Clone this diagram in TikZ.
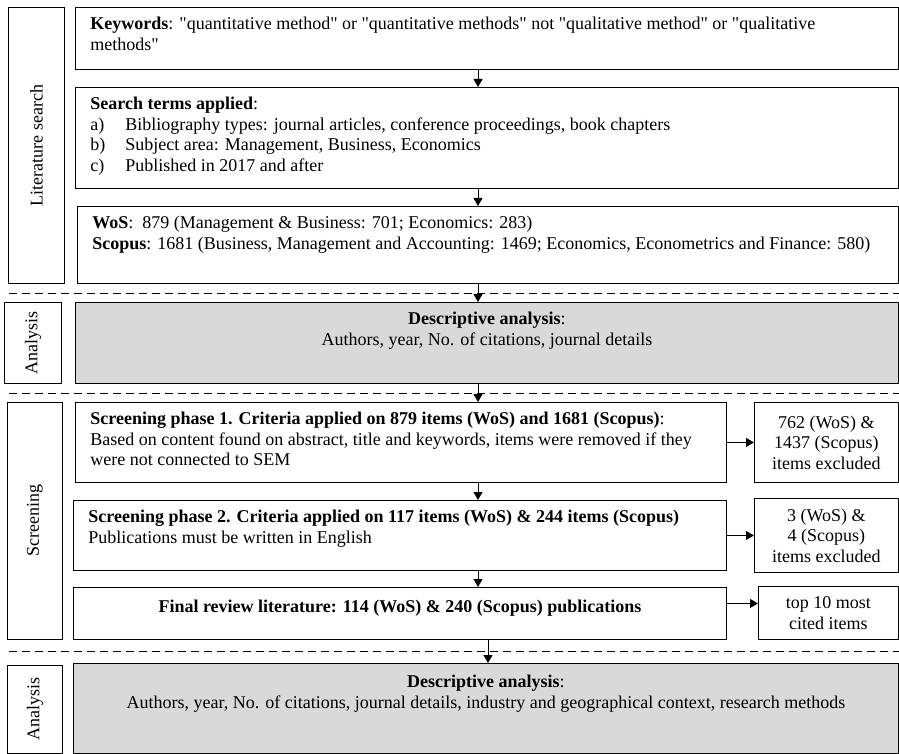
\documentclass[tikz,border=0pt]{standalone}
\usepackage{fontspec}
\setmainfont{Liberation Serif}
\usetikzlibrary{arrows.meta}
\tikzstyle{line} = [draw, -{Triangle[length=8pt,width=9pt]}, line width=0.9pt]
\tikzstyle{block} = [draw, rectangle, anchor=north west, line width=0.9pt, inner xsep=15pt, inner ysep=10pt]
\tikzstyle{side} = [draw, rectangle, anchor=north west, line width=0.9pt, inner sep=0pt]
\tikzstyle{sep} = [draw, line width=0.9pt, dash pattern=on 8pt off 5pt]
\definecolor{shade}{HTML}{D9D9D9}
\newcommand{\topbox}[3]{\parbox[c][#2][t]{#1}{#3}}
\newcommand{\midbox}[3]{\parbox[c][#2][t]{#1}{\centering #3\par}}
\newcommand{\cenbox}[3]{\parbox[c][#2][c]{#1}{\centering #3\par}}
\newcommand{\itm}[2]{\makebox[35pt][l]{#1}#2}
\newcommand{\q}[1]{\textquotedbl#1\textquotedbl}

\begin{document}
\begin{tikzpicture}[x=1pt, y=-1pt, font=\fontsize{18}{20.5}\selectfont]
        \useasboundingbox (0,0) rectangle (899,754);
        % side labels
        \node[side, minimum width=56pt, minimum height=276pt] (litlab) at (8,7) {\rotatebox{90}{Literature search}};
        \node[side, minimum width=57pt, minimum height=81pt] (anlab1) at (4,302) {\rotatebox{90}{Analysis}};
        \node[side, minimum width=55pt, minimum height=237pt] (scrlab) at (7,402) {\rotatebox{90}{Screening}};
        \node[side, minimum width=55pt, minimum height=88pt] (anlab2) at (7,665) {\rotatebox{90}{Analysis}};
        % literature search
        \node[block] (keywords) at (75,7) {\topbox{793pt}{42pt}{\textbf{Keywords}: \q{quantitative method} or \q{quantitative methods} not \q{qualitative method} or \q{qualitative\\ methods}}};
        \node[block] (terms) at (75,87) {\topbox{793pt}{81pt}{\textbf{Search terms applied}:\\
            \itm{a)}{Bibliography types: journal articles, conference proceedings, book chapters}\\
            \itm{b)}{Subject area: Management, Business, Economics}\\
            \itm{c)}{Published in 2017 and after}}};
        \node[block] (hits) at (77,206) {\topbox{791pt}{57pt}{\textbf{WoS}: \ 879 (Management \& Business: 701; Economics: 283)\\
            \textbf{Scopus}: 1681 (Business, Management and Accounting: 1469; Economics, Econometrics and Finance: 580)}};
        % analysis
        \node[block, fill=shade] (desc1) at (75,302) {\midbox{793pt}{61pt}{\textbf{Descriptive analysis}:\\ Authors, year, No. of citations, journal details}};
        % screening
        \node[block] (phase1) at (75,402) {\topbox{621pt}{60pt}{\textbf{Screening phase 1. Criteria applied on 879 items (WoS) and 1681 (Scopus)}:\\
            Based on content found on abstract, title and keywords, items were removed if they\\ were not connected to SEM}};
        \node[block] (excl1) at (754,402) {\cenbox{114pt}{60pt}{762 (WoS) \&\\ 1437 (Scopus)\\ items excluded}};
        \node[block] (phase2) at (73,500) {\topbox{623pt}{50pt}{\textbf{Screening phase 2. Criteria applied on 117 items (WoS) \& 244 items (Scopus)}\\
            Publications must be written in English}};
        \node[block] (excl2) at (754,498) {\cenbox{114pt}{54pt}{3 (WoS) \&\\ 4 (Scopus)\\ items excluded}};
        \node[block, inner ysep=13pt] (final) at (73,587) {\midbox{623pt}{26pt}{\textbf{Final review literature: 114 (WoS) \& 240 (Scopus) publications}}};
        \node[block] (top10) at (758,586) {\cenbox{110pt}{33pt}{top 10 most\\ cited items}};
        % analysis
        \node[block, fill=shade, inner ysep=12pt] (desc2) at (73,663) {\midbox{795pt}{66pt}{\textbf{Descriptive analysis}:\\ Authors, year, No. of citations, journal details, industry and geographical context, research methods}};
        % separators
        \path[sep] (9,293) -- (899,293);
        \path[sep] (9,393) -- (899,393);
        \path[sep] (9,651) -- (899,651);
        % arrows
        \coordinate (ax) at (478,0);
        \coordinate (bx) at (488,0);
        \path[line] (keywords.south -| ax) -- (terms.north -| ax);
        \path[line] (terms.south -| ax) -- (hits.north -| ax);
        \path[line] (hits.south -| ax) -- (desc1.north -| ax);
        \path[line] (desc1.south -| ax) -- (phase1.north -| ax);
        \path[line] (phase1.south -| ax) -- (phase2.north -| ax);
        \path[line] (phase2.south -| ax) -- (final.north -| ax);
        \path[line] (final.south -| bx) -- (desc2.north -| bx);
        \path[line] (phase1.east) -- (phase1.east -| excl1.west);
        \path[line] (phase2.east) -- (phase2.east -| excl2.west);
        \path[line] ([yshift=10pt]final.east) -- ([yshift=10pt]final.east -| top10.west);
    \end{tikzpicture}
\end{document}
